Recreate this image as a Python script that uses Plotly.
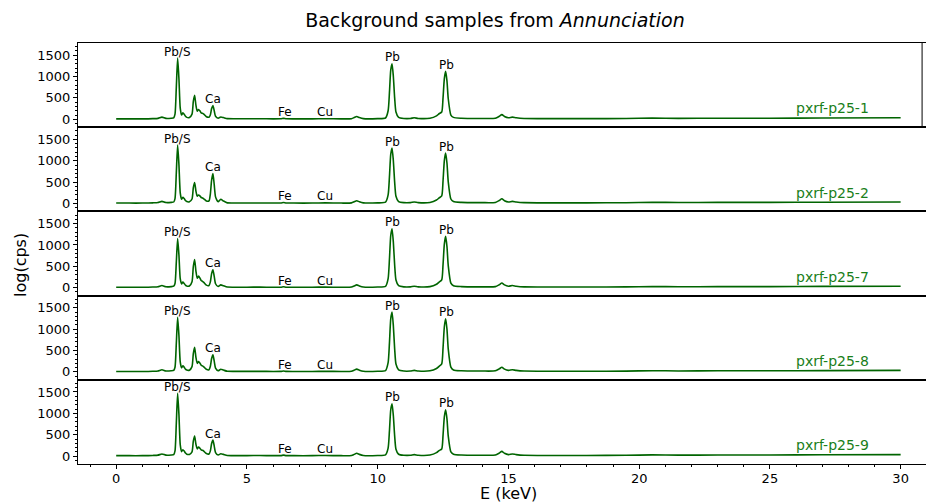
import plotly.graph_objects as go
from plotly.subplots import make_subplots

# ---------------- data ----------------
energy_kev = [
    0.0, 0.5, 1.0, 1.4, 1.6, 1.75, 1.9, 2.1,
    2.2, 2.25, 2.3, 2.35, 2.4, 2.45, 2.5, 2.55, 2.6, 2.65, 2.7,
    2.8, 2.9, 2.95, 3.0, 3.05, 3.1, 3.15, 3.2, 3.25, 3.3, 3.35, 3.45,
    3.55, 3.6, 3.65, 3.7, 3.75, 3.8, 3.9, 4.0, 4.1, 4.25,
    4.6, 5.0, 5.5, 6.0, 6.3, 6.4, 6.5, 6.8, 7.5, 8.0, 8.6,
    9.0, 9.1, 9.2, 9.3, 9.45, 10.0, 10.3,
    10.4, 10.45, 10.5, 10.55, 10.6, 10.65, 10.7, 10.8, 11.0,
    11.25, 11.4, 11.55, 12.0, 12.25, 12.35,
    12.45, 12.5, 12.55, 12.6, 12.65, 12.7, 12.8, 12.9, 13.2,
    14.0, 14.5, 14.65, 14.75, 14.85, 15.0, 15.15, 15.3, 15.6,
    16.5, 18.0, 19.5, 20.5, 21.5, 23.0, 25.0, 27.0, 30.0,
]

cps_p25_1 = [
    10, 10, 10, 15, 22, 50, 22, 25,
    35, 120, 750, 1430, 950, 260, 100, 150, 120, 70, 45,
    40, 120, 420, 560, 330, 190, 230, 200, 150, 140, 120, 60,
    50, 100, 250, 320, 200, 70, 25, 55, 40, 15,
    12, 12, 13, 10, 12, 22, 12, 10, 10, 14, 10,
    14, 40, 65, 40, 15, 15, 30,
    200, 620, 1150, 1300, 1000, 500, 170, 45, 20,
    20, 35, 20, 25, 80, 130,
    170, 500, 950, 1120, 900, 480, 100, 45, 25,
    20, 25, 70, 110, 65, 35, 50, 35, 20,
    15, 15, 18, 28, 22, 25, 25, 30, 35,
]

cps_p25_2 = [
    10, 10, 10, 15, 22, 50, 22, 25,
    35, 115, 720, 1370, 910, 250, 100, 145, 115, 70, 45,
    40, 105, 368, 490, 290, 170, 200, 180, 140, 130, 110, 60,
    60, 215, 545, 700, 440, 155, 40, 100, 60, 15,
    12, 12, 13, 10, 12, 22, 12, 10, 10, 14, 10,
    14, 40, 65, 40, 15, 15, 30,
    200, 620, 1150, 1300, 1000, 500, 170, 45, 20,
    20, 35, 20, 25, 80, 130,
    179, 527, 1001, 1180, 948, 506, 105, 45, 25,
    20, 25, 70, 110, 65, 35, 50, 35, 20,
    15, 15, 18, 28, 22, 25, 25, 30, 35,
]

cps_p25_7 = [
    10, 10, 10, 15, 22, 50, 22, 25,
    35, 97, 600, 1150, 765, 210, 90, 130, 100, 60, 40,
    40, 141, 495, 660, 390, 220, 270, 230, 170, 150, 125, 60,
    50, 130, 330, 420, 263, 92, 28, 65, 45, 15,
    12, 12, 13, 10, 12, 22, 12, 10, 10, 14, 10,
    14, 40, 65, 40, 15, 15, 30,
    212, 658, 1221, 1380, 1062, 531, 180, 48, 20,
    20, 35, 20, 25, 80, 130,
    182, 536, 1018, 1200, 964, 514, 107, 45, 25,
    20, 25, 70, 110, 65, 35, 50, 35, 20,
    15, 15, 18, 28, 22, 25, 25, 30, 35,
]

cps_p25_8 = [
    10, 10, 10, 15, 22, 50, 22, 25,
    35, 108, 670, 1280, 850, 233, 95, 140, 110, 65, 42,
    40, 123, 430, 575, 340, 200, 240, 210, 155, 140, 120, 60,
    50, 125, 312, 400, 250, 88, 27, 60, 42, 15,
    12, 12, 13, 10, 12, 22, 12, 10, 10, 14, 10,
    14, 40, 65, 40, 15, 15, 30,
    215, 668, 1239, 1400, 1078, 539, 183, 49, 20,
    20, 35, 20, 25, 80, 130,
    189, 556, 1056, 1245, 1000, 534, 111, 45, 25,
    20, 25, 70, 110, 65, 35, 50, 35, 20,
    15, 15, 18, 28, 22, 25, 25, 30, 35,
]

cps_p25_9 = [
    10, 10, 10, 15, 22, 50, 22, 25,
    35, 123, 770, 1470, 976, 267, 105, 150, 120, 70, 45,
    40, 100, 352, 470, 277, 170, 210, 185, 145, 135, 115, 60,
    50, 116, 293, 375, 234, 82, 26, 55, 40, 15,
    12, 12, 13, 10, 12, 22, 12, 10, 10, 14, 10,
    14, 40, 65, 40, 15, 15, 30,
    188, 584, 1084, 1225, 943, 472, 160, 43, 20,
    20, 35, 20, 25, 80, 130,
    165, 484, 920, 1085, 872, 465, 97, 45, 25,
    20, 25, 70, 110, 65, 35, 50, 35, 20,
    15, 15, 18, 28, 22, 25, 25, 30, 35,
]

sample_names = ["pxrf-p25-1", "pxrf-p25-2", "pxrf-p25-7", "pxrf-p25-8", "pxrf-p25-9"]
sample_cps = [cps_p25_1, cps_p25_2, cps_p25_7, cps_p25_8, cps_p25_9]

# element labels: name, energy (keV), label height per sample (cps)
peak_labels = ["Pb/S", "Ca", "Fe", "Cu", "Pb", "Pb"]
peak_label_energy = [2.33, 3.72, 6.45, 8.0, 10.55, 12.62]
peak_label_height = [
    [1580, 470, 165, 165, 1450, 1270],
    [1520, 850, 165, 165, 1450, 1330],
    [1300, 570, 165, 165, 1530, 1350],
    [1430, 550, 165, 165, 1550, 1395],
    [1620, 525, 165, 165, 1375, 1235],
]

x_ticks = [0, 5, 10, 15, 20, 25, 30]
y_ticks = [0, 500, 1000, 1500]

# ---------------- figure ----------------
LINE = "#006400"
TEXT_GREEN = "#1a801a"
FONT = "DejaVu Sans"
n = len(sample_names)

fig = make_subplots(rows=n, cols=1, shared_xaxes=True, vertical_spacing=0)

for i in range(n):
    r = i + 1
    fig.add_trace(
        go.Scatter(x=energy_kev, y=sample_cps[i], mode="lines",
                   line=dict(color=LINE, width=1.6, shape="spline", smoothing=0.6),
                   showlegend=False, hoverinfo="skip"),
        row=r, col=1)
    xs = "x" if r == 1 else f"x{r}"
    ys = "y" if r == 1 else f"y{r}"
    for lab, e, h in zip(peak_labels, peak_label_energy, peak_label_height[i]):
        fig.add_annotation(x=e, y=h, xref=xs, yref=ys, text=lab, showarrow=False,
                           xanchor="center", yanchor="middle",
                           font=dict(family=FONT, size=12, color="black"))
    fig.add_annotation(x=26, y=255, xref=xs, yref=ys, text=sample_names[i],
                       showarrow=False, xanchor="left", yanchor="middle",
                       xshift=-2,
                       font=dict(family=FONT, size=14, color=TEXT_GREEN))

    fig.update_yaxes(row=r, col=1, range=[-185, 1785], tickvals=y_ticks,
                     ticks="outside", ticklen=4, tickwidth=1, tickcolor="black",
                     showline=True, linecolor="black", linewidth=1,
                     showgrid=False, zeroline=False,
                     tickfont=dict(family=FONT, size=13, color="black"),
                     minor=dict(dtick=100, tick0=0, ticks="outside", ticklen=2,
                                tickcolor="black", tickwidth=1, showgrid=False))
    last = (r == n)
    fig.update_xaxes(row=r, col=1, range=[-1.46, 30.97],
                     showline=True, mirror=True, linecolor="black", linewidth=1,
                     showgrid=False, zeroline=False,
                     tickvals=x_ticks if last else [],
                     showticklabels=last,
                     ticks="outside" if last else "",
                     ticklen=4, tickwidth=1, tickcolor="black",
                     ticklabelstandoff=-2,
                     tickfont=dict(family=FONT, size=13, color="black"),
                     minor=dict(dtick=1, tick0=0, ticks="outside" if last else "",
                                ticklen=2, tickcolor="black", showgrid=False))

# right spine of top panel
fig.add_shape(type="line", xref="x", yref="y domain", x0=30.82, x1=30.82, y0=0, y1=1,
              line=dict(color="black", width=1))

fig.update_layout(
    width=926, height=502,
    margin=dict(l=78, r=0, t=43, b=38),
    paper_bgcolor="white", plot_bgcolor="white",
    font=dict(family=FONT, color="black"),
    title=dict(text="Background samples from <i>Annunciation</i>",
               x=0.4917, xref="paper", xanchor="center",
               y=1 - 20 / 502, yref="container", yanchor="middle",
               font=dict(family=FONT, size=19, color="black")),
)

fig.add_annotation(text="log(cps)", xref="paper", yref="paper",
                   x=(20 - 78) / 848, y=(464 - 265) / 421, textangle=-90,
                   showarrow=False, xanchor="center", yanchor="middle",
                   font=dict(family=FONT, size=16, color="black"))
fig.add_annotation(text="E (keV)", xref="paper", yref="paper",
                   x=(508 - 78) / 848, y=(464 - 493) / 421,
                   showarrow=False, xanchor="center", yanchor="middle",
                   font=dict(family=FONT, size=16, color="black"))

fig.write_html("out.html")
